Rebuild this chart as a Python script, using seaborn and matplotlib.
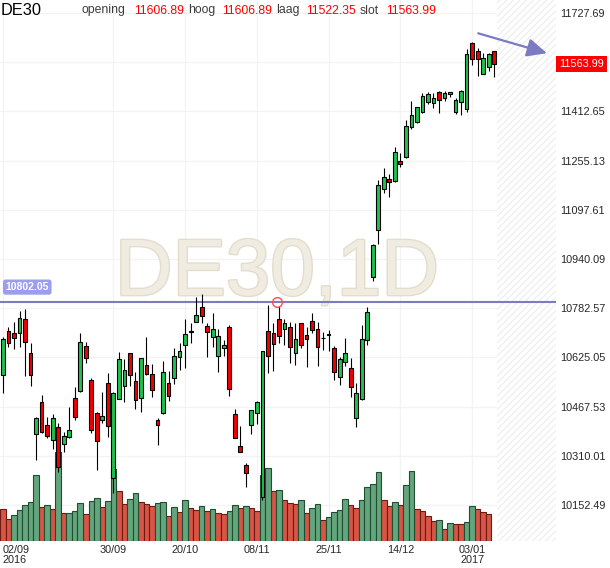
import numpy as np
import pandas as pd
import matplotlib
matplotlib.use("Agg")
import matplotlib.pyplot as plt
import matplotlib.patheffects as pe
from matplotlib.colors import to_hex
from matplotlib.transforms import blended_transform_factory
import seaborn as sns

# --- DE30 daily candles 02/09/2016 .. 09/01/2017 ---
opens = [10567.7, 10708.6, 10703.2, 10704.1, 10748.0, 10639.1, 10378.8, 10481.3, 10408.6, 10359.6,
         10402.2, 10346.8, 10371.2, 10494.1, 10516.5, 10661.5, 10552.7, 10448.0, 10424.6, 10542.1,
         10238.0, 10490.9, 10532.5, 10639.1, 10549.5, 10494.1, 10599.8, 10570.9, 10424.6, 10448.0,
         10542.1, 10558.1, 10625.4, 10663.8, 10707.3, 10739.3, 10786.4, 10725.6, 10689.4, 10630.5,
         10656.1, 10721.4, 10443.8, 10341.4, 10280.6, 10407.7, 10446.1, 10179.1, 10708.6, 10703.2,
         10747.0, 10716.9, 10723.3, 10638.2, 10734.2, 10695.8, 10742.5, 10716.9, 10686.2, 10700.0,
         10654.2, 10561.3, 10611.3, 10590.2, 10432.0, 10491.9, 10680.8, 10881.5, 11032.0, 11165.2,
         11195.2, 11190.8, 11253.8, 11265.7, 11363.7, 11379.7, 11411.7, 11441.8, 11440.5, 11473.8,
         11454.6, 11468.3, 11409.8, 11441.8, 11421.3, 11630.7, 11607.0, 11532.4, 11555.7, 11606.89]
highs = [10691.3, 10723.3, 10739.3, 10774.6, 10779.0, 10670.2, 10434.2, 10503.7, 10435.2, 10443.8,
         10414.1, 10387.2, 10465.3, 10531.2, 10702.2, 10673.4, 10558.1, 10451.2, 10515.2, 10574.1,
         10514.3, 10643.3, 10619.0, 10639.1, 10577.3, 10623.1, 10689.4, 10603.9, 10431.0, 10612.6,
         10581.5, 10654.2, 10670.2, 10747.0, 10734.2, 10819.4, 10828.0, 10734.2, 10768.2, 10715.0,
         10680.8, 10728.8, 10459.8, 10405.4, 10286.0, 10455.7, 10485.5, 10645.5, 10792.8, 10734.2,
         10789.6, 10747.0, 10739.3, 10734.2, 10734.2, 10723.3, 10766.2, 10739.3, 10707.3, 10712.8,
         10661.5, 10627.3, 10688.1, 10624.1, 10542.1, 10728.8, 10787.4, 10988.1, 11193.0, 11230.5,
         11212.2, 11297.7, 11278.5, 11385.1, 11446.9, 11426.7, 11472.5, 11475.7, 11472.5, 11478.0,
         11478.0, 11473.8, 11454.6, 11481.2, 11611.5, 11635.8, 11614.7, 11598.7, 11600.6, 11606.89]
lows = [10512.0, 10659.3, 10651.9, 10657.4, 10566.5, 10534.4, 10296.6, 10382.0, 10368.0, 10331.8,
        10258.1, 10323.1, 10366.0, 10424.6, 10514.3, 10608.1, 10382.0, 10264.5, 10414.1, 10369.2,
        10189.9, 10490.9, 10483.2, 10534.4, 10460.8, 10451.2, 10567.7, 10499.2, 10344.6, 10444.8,
        10486.4, 10540.8, 10584.7, 10590.2, 10670.2, 10739.3, 10736.1, 10627.3, 10657.4, 10579.3,
        10630.5, 10501.5, 10366.0, 10323.1, 10209.2, 10378.8, 10411.8, 10168.5, 10574.1, 10582.5,
        10670.2, 10664.7, 10608.1, 10600.7, 10654.2, 10593.4, 10704.1, 10598.5, 10648.7, 10645.5,
        10552.7, 10536.7, 10597.5, 10499.2, 10401.3, 10488.7, 10664.7, 10870.6, 10987.1, 11150.4,
        11139.5, 11187.6, 11235.6, 11262.5, 11355.3, 11376.5, 11408.5, 11436.3, 11424.5, 11406.6,
        11446.9, 11459.7, 11403.4, 11401.1, 11411.7, 11561.2, 11526.0, 11531.4, 11542.9, 11522.35]
closes = [10683.0, 10670.2, 10686.2, 10750.2, 10673.4, 10569.7, 10431.0, 10385.2, 10374.4, 10431.0,
          10273.2, 10373.4, 10392.6, 10433.3, 10673.4, 10624.1, 10391.6, 10358.3, 10437.4, 10405.4,
          10510.1, 10619.0, 10583.7, 10567.7, 10488.7, 10622.2, 10572.9, 10519.7, 10409.6, 10577.3,
          10500.5, 10628.6, 10644.6, 10700.0, 10709.6, 10760.8, 10756.6, 10707.3, 10715.0, 10692.6,
          10663.8, 10522.9, 10368.0, 10323.1, 10255.9, 10455.7, 10482.3, 10645.5, 10629.5, 10667.0,
          10693.6, 10734.2, 10659.3, 10683.0, 10664.7, 10683.0, 10712.8, 10659.3, 10686.2, 10695.8,
          10579.3, 10619.0, 10638.2, 10531.2, 10510.1, 10683.0, 10771.4, 10983.9, 11177.0, 11201.7,
          11187.6, 11281.7, 11243.3, 11364.9, 11400.2, 11425.8, 11461.0, 11467.4, 11454.6, 11448.2,
          11470.6, 11473.8, 11448.2, 11477.0, 11596.4, 11581.4, 11581.4, 11582.6, 11596.4, 11563.99]

# relative volume, the running session has no bar yet
volume = [32, 21.7, 25.7, 30.7, 35.7, 38.7, 65.7, 33.7, 35.7, 31.7,
          89, 27.7, 28, 29.7, 37.7, 26.7, 39.7, 42.7, 33.7, 39.7,
          71.7, 49.7, 36.7, 41.7, 47.7, 38.7, 36.7, 34.7, 37.7, 38.7,
          24.7, 33.7, 28.7, 40.7, 32.7, 30.7, 34.7, 29.7, 31.7, 27.7,
          26.7, 29.7, 35.7, 32.7, 34.7, 32.7, 29.7, 66, 72.7, 50.5,
          51, 40.7, 37.7, 37.5, 40.7, 27.7, 32.7, 37, 20.7, 23.7,
          28.7, 30.7, 41.7, 35.7, 32.7, 40.7, 53.7, 56.7, 68.7, 40.7,
          34.7, 38.7, 35.7, 56, 69.7, 31.7, 29.7, 24.7, 19.7, 20.7,
          11.7, 17.7, 17.2, 16.7, 18.7, 34.7, 31.7, 29.3, 26.7]

tick_idx = [0, 20, 33, 46, 59, 72, 85]
tick_labels = ['02/09\n2016', '30/09', '20/10', '08/11', '25/11', '14/12', '03/01\n2017']
price_ticks = [11727.69, 11570.17, 11412.65, 11255.13, 11097.61, 10940.09,
               10782.57, 10625.05, 10467.53, 10310.01, 10152.49]

level = 10802.05          # horizontal line
touch_idx = 49.6          # red circle on the line
arrow_from = (86.1, 11662.7)
arrow_to = (98.55, 11599.0)

# --- colours ---
c_green = '#1fc24e'
c_red = '#f20000'
v_green, v_green_edge = '#64a57d', '#1f4f30'
v_red, v_red_edge = '#d75546', '#6e1a12'
line_blue = '#7b7bc4'
grid_c = '#f3f3f3'

sns.set_style('white')
plt.rcParams['font.family'] = ['Liberation Sans', 'DejaVu Sans']
plt.rcParams['hatch.linewidth'] = 0.8

df = pd.DataFrame({'open': opens, 'high': highs, 'low': lows, 'close': closes})
df['idx'] = np.arange(len(df))

vol = pd.DataFrame({'idx': np.arange(len(volume)), 'volume': volume})
vol['dir'] = np.where(vol['volume'].diff() > 0, 'up', 'down')

fig = plt.figure(figsize=(6.1, 5.68), dpi=100)
ax_vol = fig.add_axes([0, 27 / 568, 556 / 610, 541 / 568])
ax = ax_vol.twinx()

xmin, xmax = -0.54, 100.2

# --- volume bars (bottom axes) ---
sns.barplot(data=vol, x='idx', y='volume', hue='dir', palette={'up': v_green, 'down': v_red},
            native_scale=True, width=1.0, dodge=False, saturation=1, errorbar=None,
            legend=False, linewidth=0.8, ax=ax_vol)
for p in ax_vol.patches:
    fc = to_hex(p.get_facecolor())
    p.set_edgecolor(v_green_edge if fc == to_hex(v_green) else v_red_edge)
    p.set_zorder(2)

# grid
ax_vol.set_axisbelow(True)
ax_vol.set_xticks(tick_idx)
ax_vol.grid(axis='x', color=grid_c, lw=0.9)
ax_vol.hlines(price_ticks, xmin, xmax, colors=grid_c, lw=0.9, transform=ax.transData, zorder=0.6)
ax_vol.axvspan(89.5, xmax, facecolor='white', edgecolor='#ededed', hatch='/////', lw=0, zorder=0.8)

# watermark
ax_vol.text(277 / 610, 1 - 295 / 568, 'DE30,1D', transform=fig.transFigure, ha='center',
            va='baseline', fontsize=57.5, color='#f0ece2', zorder=0.9,
            path_effects=[pe.Stroke(linewidth=2, foreground='#e4ddcc'), pe.Normal()])

ax_vol.set_ylim(0, 541)
ax_vol.set_xlim(xmin, xmax)
ax_vol.set_yticks([])
ax_vol.set_xlabel('')
ax_vol.set_ylabel('')
ax_vol.set_xticklabels(tick_labels, fontsize=7.8, linespacing=0.95)
ax_vol.get_xticklabels()[0].set_ha('left')
ax_vol.tick_params(axis='x', length=0, pad=3)

# --- candles (price axes) ---
up = df['close'] > df['open']
ax.axhline(level, color=line_blue, lw=1.5, zorder=2)
ax.vlines(df['idx'], df['low'], df['high'], color='black', lw=0.8, zorder=3)
ax.bar(df['idx'], (df['close'] - df['open']).abs(), bottom=df[['open', 'close']].min(axis=1),
       width=0.68, color=np.where(up, c_green, c_red), edgecolor='black', linewidth=0.8, zorder=4)

ax.plot([touch_idx], [level], marker='o', ms=7, mfc='none', mec='#ff4d4d', mew=1, zorder=5)
ax.annotate('', xy=arrow_to, xytext=arrow_from,
            arrowprops=dict(arrowstyle='-|>,head_length=0.6,head_width=0.28', color=line_blue,
                            lw=1.6, mutation_scale=20, shrinkA=0, shrinkB=0), zorder=5)

ax.annotate(f'{level:.2f}', xy=(0.01, level), xycoords=('axes fraction', 'data'),
            xytext=(0, 10.8), textcoords='offset points', ha='left', va='center',
            fontsize=7.5, fontweight='bold', color='white', zorder=6,
            bbox=dict(boxstyle='round,pad=0.25', fc='#9d9df0', ec='none'))

ax.text(1.006, closes[-1], f'{closes[-1]:.2f}',
        transform=blended_transform_factory(ax.transAxes, ax.transData),
        ha='left', va='center', fontsize=7.8, color='white', clip_on=False, zorder=10,
        bbox=dict(boxstyle='square,pad=0.3', fc='#ff0000', ec='none'))

ax.set_ylim(10037.2, 11769.3)
ax.set_xlim(xmin, xmax)
ax.set_yticks(price_ticks)
ax.set_yticklabels([f'{t:.2f}' for t in price_ticks])
ax.tick_params(axis='y', length=0, pad=3, labelsize=7.8)

for a in (ax, ax_vol):
    for s in a.spines.values():
        s.set_visible(False)

# --- header ---
hy = 1 - 13.5 / 568
fig.text(1 / 610, 1 - 15 / 568, 'DE30', fontsize=11.8, color='black', va='baseline')
header = [('opening', 82, '#3c3c3c'), ('11606.89', 134, '#ff0000'),
          ('hoog', 188, '#3c3c3c'), ('11606.89', 222, '#ff0000'),
          ('laag', 276, '#3c3c3c'), ('11522.35', 306, '#ff0000'),
          ('slot', 360, '#3c3c3c'), ('11563.99', 386, '#ff0000')]
for txt, xp, col in header:
    fig.text(xp / 610, hy, txt, fontsize=8.8, color=col, va='baseline')

fig.savefig('out.png', dpi=100)
